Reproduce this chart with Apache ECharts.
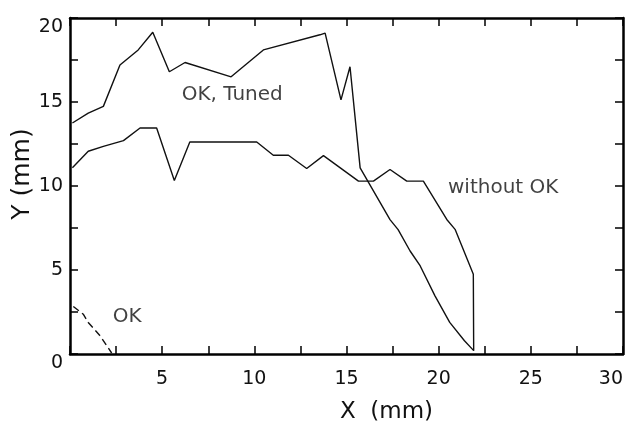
<!DOCTYPE html>
<html>
<head>
<meta charset="utf-8">
<script src="https://cdn.jsdelivr.net/npm/echarts@6/dist/echarts.min.js"></script>
<style>
  html, body { margin: 0; padding: 0; background: #fff; }
  #content { width: 632px; height: 428px; }
</style>
</head>
<body>
<div id="content"></div>
<script>
// 数据
var tunedX = [0.13, 0.99, 1.81, 2.71, 3.7, 4.49, 5.39, 6.24, 8.74, 10.49, 13.56, 13.84, 14.7, 15.19, 15.74, 17.36, 17.8, 18.45, 19.0, 19.8, 20.6, 21.4, 21.9];
var tunedY = [13.75, 14.34, 14.74, 17.2, 18.1, 19.15, 16.8, 17.35, 16.5, 18.1, 19.0, 19.1, 15.13, 17.1, 11.08, 8.0, 7.4, 6.13, 5.24, 3.46, 1.88, 0.79, 0.2];

var withoutX = [0.13, 0.99, 1.81, 2.9, 3.8, 4.7, 5.66, 6.5, 10.13, 11.03, 11.85, 12.84, 13.75, 15.65, 16.46, 17.36, 18.27, 19.17, 20.44, 20.89, 21.88, 21.9];
var withoutY = [11.08, 12.07, 12.36, 12.7, 13.45, 13.45, 10.33, 12.62, 12.62, 11.83, 11.83, 11.04, 11.81, 10.29, 10.29, 10.98, 10.29, 10.29, 8.01, 7.42, 4.75, 0.2];

var okX = [0.18, 0.72, 0.99, 1.63, 2.26];
var okY = [2.83, 2.37, 1.88, 1.09, 0.06];

// 曲线旁的文字标注
var noteText = ["OK, Tuned", "without OK", "OK"];
var notePos = [[8.8, 15.4], [23.5, 9.9], [3.1, 2.2]];

function pairs(xs, ys) {
    var out = [];
    for (var i = 0; i < xs.length; i++) {
        out.push([xs[i], ys[i]]);
    }
    return out;
}

var font = "DejaVu Sans";
var myChart = echarts.init(document.getElementById("content"));

var axisLine = { show: true, onZero: false, lineStyle: { color: "#000", width: 2.5 } };
var tick = { show: true, inside: true, length: 8, lineStyle: { color: "#000", width: 1.5 } };
var minor = { show: true, splitNumber: 2, length: 8, lineStyle: { color: "#000", width: 1.5 } };

var notes = [];
for (var i = 0; i < noteText.length; i++) {
    notes.push({ value: notePos[i], name: noteText[i] });
}

myChart.setOption({
    animation: false,
    backgroundColor: "#fff",
    grid: { left: 70, right: 9, top: 18, bottom: 74, containLabel: false, outerBoundsMode: "none" },
    xAxis: [{
        type: "value",
        min: 0,
        max: 30,
        interval: 5,
        position: "bottom",
        name: "X  (mm)",
        nameLocation: "middle",
        nameGap: 47,
        nameMoveOverlap: false,
        nameTextStyle: { fontFamily: font, fontSize: 23, color: "#111", padding: [0, 0, 0, 80] },
        axisLine: axisLine,
        axisTick: tick,
        minorTick: minor,
        splitLine: { show: false },
        axisLabel: {
            fontFamily: font, fontSize: 19, color: "#111", margin: 16,
            alignMaxLabel: "right",
            formatter: function(v) { return v === 0 ? "" : String(v); }
        }
    }, {
        type: "value",
        min: 0,
        max: 30,
        interval: 5,
        position: "top",
        axisLine: axisLine,
        axisTick: tick,
        minorTick: minor,
        splitLine: { show: false },
        axisLabel: { show: false }
    }],
    yAxis: [{
        type: "value",
        min: 0,
        max: 20,
        interval: 5,
        position: "left",
        name: "Y (mm)",
        nameLocation: "middle",
        nameGap: 35,
        nameMoveOverlap: false,
        nameTextStyle: { fontFamily: font, fontSize: 25, color: "#111", padding: [0, 0, 0, 24] },
        axisLine: axisLine,
        axisTick: tick,
        minorTick: minor,
        splitLine: { show: false },
        axisLabel: {
            fontFamily: font, fontSize: 19, color: "#111", margin: 7,
            verticalAlignMinLabel: "top",
            verticalAlignMaxLabel: "top"
        }
    }, {
        type: "value",
        min: 0,
        max: 20,
        interval: 5,
        position: "right",
        axisLine: axisLine,
        axisTick: tick,
        minorTick: minor,
        splitLine: { show: false },
        axisLabel: { show: false }
    }],
    series: [{
        name: "OK, Tuned",
        type: "line",
        data: pairs(tunedX, tunedY),
        showSymbol: false,
        lineStyle: { color: "#111", width: 1.4 }
    }, {
        name: "without OK",
        type: "line",
        data: pairs(withoutX, withoutY),
        showSymbol: false,
        lineStyle: { color: "#111", width: 1.4 }
    }, {
        name: "OK",
        type: "line",
        data: pairs(okX, okY),
        showSymbol: false,
        lineStyle: { color: "#111", width: 1.4, type: [7, 4] }
    }, {
        name: "notes",
        type: "scatter",
        data: notes,
        symbolSize: 0,
        silent: true,
        label: {
            show: true,
            position: "inside",
            formatter: function(p) { return p.name; },
            fontFamily: font,
            fontSize: 20,
            color: "#111"
        }
    }]
});
</script>
</body>
</html>
